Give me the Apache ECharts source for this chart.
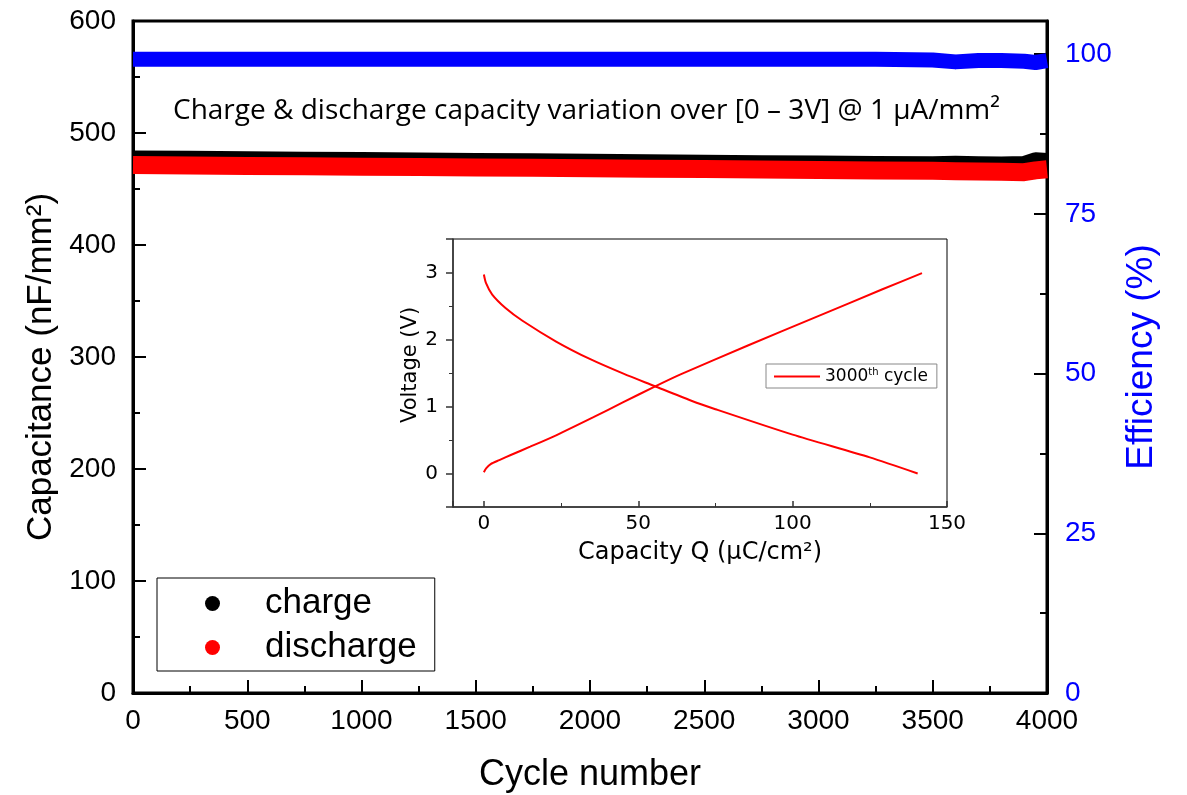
<!DOCTYPE html>
<html>
<head>
<meta charset="utf-8">
<script src="https://cdn.jsdelivr.net/npm/echarts@6/dist/echarts.min.js"></script>
<style>
  html, body { margin: 0; padding: 0; background: #fff; }
  #chart { width: 1187px; height: 795px; }
</style>
</head>
<body>
<div id="chart"></div>
<script>
// main plot: capacitance / efficiency vs cycle number
const cycles = [0, 250, 500, 750, 1000, 1250, 1500, 1750, 2000, 2250, 2500, 2750, 3000, 3250, 3500, 3600, 3700, 3800, 3900, 3950, 4000];
const chargeCap = [476.4, 476.1, 475.7, 475.3, 474.9, 474.6, 474.2, 473.8, 473.4, 473.0, 472.6, 472.2, 471.8, 471.4, 471.1, 471.7, 471.3, 471.0, 471.4, 474.8, 474.2];
const dischargeCap = [471.4, 471.0, 470.6, 470.3, 469.9, 469.6, 469.2, 468.9, 468.5, 468.1, 467.8, 467.4, 467.0, 466.6, 466.2, 465.9, 465.6, 465.3, 465.0, 466.6, 467.6];
const efficiency = [99.2, 99.2, 99.2, 99.2, 99.2, 99.2, 99.2, 99.2, 99.2, 99.2, 99.2, 99.2, 99.2, 99.2, 99.1, 98.8, 99.0, 99.0, 98.9, 98.7, 99.0];

// inset: voltage vs capacity Q at the 3000th cycle
const qDischarge = [0, 0.7, 2.7, 7, 12.5, 23.4, 34.3, 45.2, 55, 67, 75, 100, 125, 140.5];
const vDischarge = [2.97, 2.84, 2.67, 2.47, 2.28, 1.97, 1.71, 1.49, 1.31, 1.09, 0.96, 0.58, 0.24, 0.0];
const qCharge = [0, 0.8, 2.2, 5, 8.9, 15, 23.4, 35.5, 45, 55, 63.7, 85.5, 107.3, 129.1, 141.9];
const vCharge = [0.02, 0.08, 0.14, 0.2, 0.28, 0.4, 0.57, 0.84, 1.06, 1.29, 1.48, 1.91, 2.33, 2.75, 2.99];

const titleText = "Charge & discharge capacity variation over [0 \u2013 3V] @ 1 \u00b5A/mm\u00b2";

const sans = "Liberation Sans";
const insetFont = "DejaVu Sans";

const chart = echarts.init(document.getElementById("chart"));

const pairs = (xs, ys) => xs.map((x, i) => [x, ys[i]]);

const mainTick = { inside: true, length: 13, lineStyle: { color: "#000", width: 2 } };
const mainMinor = { show: true, splitNumber: 2, length: 7, lineStyle: { color: "#000", width: 2 } };
const mainLine = { show: true, onZero: false, lineStyle: { color: "#000", width: 3 } };
const insetLine = { show: true, onZero: false, lineStyle: { color: "#333", width: 1.5 } };

chart.setOption({
  animation: false,
  backgroundColor: "#fff",
  title: {
    text: titleText,
    left: 168,
    top: 92,
    textStyle: { fontFamily: "Open Sans", fontSize: 28, fontWeight: "normal", color: "#000" },
  },
  grid: [
    { left: 133, top: 21, width: 914, height: 672, show: true, borderColor: "#000", borderWidth: 3, outerBoundsMode: "none" },
    { left: 453, top: 239, width: 494, height: 268, show: true, borderColor: "#000", borderWidth: 1, backgroundColor: "#fff", outerBoundsMode: "none" },
  ],
  legend: [
    {
      data: ["charge", "discharge"],
      orient: "vertical",
      left: 157,
      top: 578,
      icon: "circle",
      itemWidth: 15,
      itemHeight: 15,
      itemGap: 9,
      padding: [8, 18, 6, 48],
      borderColor: "#000",
      borderWidth: 1,
      selectedMode: false,
      formatter: (name) => "{t|" + name + "}",
      textStyle: {
        color: "#000",
        rich: { t: { fontFamily: sans, fontSize: 35, lineHeight: 36, padding: [0, 0, 0, 40], color: "#000" } },
      },
    },
    {
      data: ["3000th cycle"],
      left: 766,
      top: 364,
      icon: "rect",
      itemWidth: 46,
      itemHeight: 2,
      padding: [3, 9, 3, 8],
      borderColor: "#888",
      borderWidth: 1,
      selectedMode: false,
      formatter: () => "3000{sup|th} cycle",
      textStyle: {
        fontFamily: insetFont,
        fontSize: 17,
        lineHeight: 16,
        color: "#000",
        rich: { sup: { fontFamily: insetFont, fontSize: 10, padding: [0, 0, 9, 0], color: "#000" } },
      },
    },
  ],
  xAxis: [
    {
      gridIndex: 0,
      type: "value",
      min: 0,
      max: 4000,
      interval: 500,
      axisLine: mainLine,
      axisTick: mainTick,
      minorTick: mainMinor,
      splitLine: { show: false },
      axisLabel: { fontFamily: sans, fontSize: 28, color: "#000", margin: 14, formatter: (v) => String(v) },
      name: "Cycle number",
      nameLocation: "middle",
      nameGap: 64,
      nameTextStyle: { fontFamily: sans, fontSize: 36, color: "#000" },
    },
    {
      gridIndex: 1,
      type: "value",
      min: -10,
      max: 150,
      splitNumber: 3,
      axisLine: insetLine,
      axisTick: { inside: true, length: 6, lineStyle: { color: "#333", width: 1.5 } },
      minorTick: { show: true, splitNumber: 2, length: 4, lineStyle: { color: "#333", width: 1 } },
      splitLine: { show: false },
      axisLabel: { fontFamily: insetFont, fontSize: 20, color: "#000", margin: 7, showMinLabel: false },
      name: "Capacity Q (\u00b5C/cm\u00b2)",
      nameLocation: "middle",
      nameGap: 34,
      nameTextStyle: { fontFamily: insetFont, fontSize: 24, color: "#000" },
    },
  ],
  yAxis: [
    {
      gridIndex: 0,
      type: "value",
      position: "left",
      min: 0,
      max: 600,
      interval: 100,
      axisLine: mainLine,
      axisTick: mainTick,
      minorTick: mainMinor,
      splitLine: { show: false },
      axisLabel: { fontFamily: sans, fontSize: 28, color: "#000", margin: 17 },
      name: "Capacitance (nF/mm\u00b2)",
      nameLocation: "middle",
      nameRotate: 90,
      nameGap: 73,
      nameTextStyle: { fontFamily: sans, fontSize: 35, color: "#000", padding: [0, 20, 0, 0] },
    },
    {
      gridIndex: 0,
      type: "value",
      position: "right",
      min: 0,
      max: 105.2,
      interval: 25,
      axisLine: mainLine,
      axisTick: mainTick,
      minorTick: mainMinor,
      splitLine: { show: false },
      axisLabel: { fontFamily: sans, fontSize: 28, color: "#0000ff", margin: 18, showMaxLabel: false },
      name: "Efficiency (%)",
      nameLocation: "middle",
      nameRotate: 90,
      nameGap: 76,
      nameTextStyle: { fontFamily: sans, fontSize: 37, color: "#0000ff" },
    },
    {
      gridIndex: 1,
      type: "value",
      min: -0.5,
      max: 3.5,
      splitNumber: 4,
      axisLine: insetLine,
      axisTick: { inside: false, length: 7, lineStyle: { color: "#333", width: 1.5 } },
      minorTick: { show: true, splitNumber: 2, length: 4, lineStyle: { color: "#333", width: 1 } },
      splitLine: { show: false },
      axisLabel: { fontFamily: insetFont, fontSize: 20, color: "#000", margin: 15, showMinLabel: false, showMaxLabel: false },
      name: "Voltage (V)",
      nameLocation: "middle",
      nameRotate: 90,
      nameGap: 31,
      nameTextStyle: { fontFamily: insetFont, fontSize: 21, color: "#000", padding: [0, 0, 0, 16] },
    },
  ],
  series: [
    {
      name: "charge",
      type: "line",
      xAxisIndex: 0,
      yAxisIndex: 0,
      data: pairs(cycles, chargeCap),
      showSymbol: false,
      itemStyle: { color: "#000" },
      lineStyle: { color: "#000", width: 18, cap: "butt", join: "round" },
    },
    {
      name: "discharge",
      type: "line",
      xAxisIndex: 0,
      yAxisIndex: 0,
      data: pairs(cycles, dischargeCap),
      showSymbol: false,
      itemStyle: { color: "#ff0000" },
      lineStyle: { color: "#ff0000", width: 18, cap: "butt", join: "round" },
    },
    {
      name: "efficiency",
      type: "line",
      xAxisIndex: 0,
      yAxisIndex: 1,
      data: pairs(cycles, efficiency),
      showSymbol: false,
      itemStyle: { color: "#0000ff" },
      lineStyle: { color: "#0000ff", width: 15, cap: "butt", join: "round" },
    },
    {
      name: "3000th cycle",
      type: "line",
      xAxisIndex: 1,
      yAxisIndex: 2,
      data: pairs(qDischarge, vDischarge),
      showSymbol: false,
      smooth: 0.25,
      itemStyle: { color: "#ff0000" },
      lineStyle: { color: "#ff0000", width: 2 },
    },
    {
      name: "3000th cycle",
      type: "line",
      xAxisIndex: 1,
      yAxisIndex: 2,
      data: pairs(qCharge, vCharge),
      showSymbol: false,
      smooth: 0.25,
      itemStyle: { color: "#ff0000" },
      lineStyle: { color: "#ff0000", width: 2 },
    },
  ],
});

window.addEventListener("resize", chart.resize);
</script>
</body>
</html>
